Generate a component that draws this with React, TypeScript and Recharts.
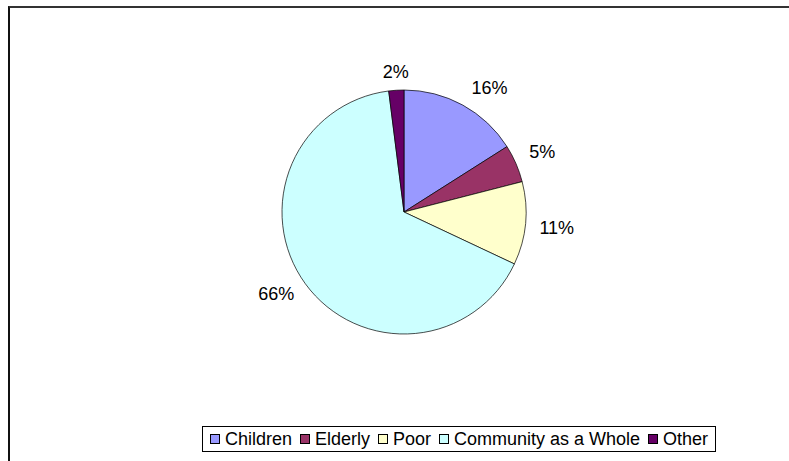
import { PieChart, Pie, Cell, Legend } from 'recharts';

const categories = ['Children', 'Elderly', 'Poor', 'Community as a Whole', 'Other'];
const shares = [16, 5, 11, 66, 2];
const colors = ['#9999FF', '#993366', '#FFFFCC', '#CCFFFF', '#660066'];

const data = categories.map((name, i) => ({ name, value: shares[i] }));

const RADIAN = Math.PI / 180;
const FONT = '"Liberation Sans", Arial, sans-serif';

const renderLabel = (props: any) => {
  const { cx, cy, midAngle, outerRadius, value } = props;
  const r = outerRadius + 10;
  const cos = Math.cos(-midAngle * RADIAN);
  const sin = Math.sin(-midAngle * RADIAN);
  const centered = Math.abs(cos) < 0.2;
  const x = cx + r * cos + (centered ? 0 : cos >= 0 ? 4 : -3);
  const y = cy + r * sin + (sin < 0 ? -2 : 10);
  return (
    <text
      x={x}
      y={y}
      textAnchor={centered ? 'middle' : cos >= 0 ? 'start' : 'end'}
      fill="#000"
      fontSize={18}
      fontFamily={FONT}
    >
      {`${value}%`}
    </text>
  );
};

const renderLegend = () => (
  <div
    style={{
      boxSizing: 'border-box',
      width: 514,
      height: 26,
      border: '1px solid #000',
      display: 'flex',
      alignItems: 'center',
      justifyContent: 'center',
      fontFamily: FONT,
      fontSize: 18,
      color: '#000',
      background: '#fff',
    }}
  >
    {categories.map((c, i) => (
      <span key={c} style={{ display: 'flex', alignItems: 'center', marginRight: i < categories.length - 1 ? 8 : 0 }}>
        <span
          style={{
            display: 'inline-block',
            width: 8,
            height: 8,
            background: colors[i],
            border: '1px solid #000',
            marginRight: 5,
          }}
        />
        {c}
      </span>
    ))}
  </div>
);

export default function App() {
  return (
    <div style={{ position: 'absolute', left: 0, top: 0, width: 789, height: 461, background: '#fff', overflow: 'hidden' }}>
      <div
        style={{
          position: 'absolute',
          left: 8,
          top: 6,
          width: 800,
          height: 470,
          borderTop: '2px solid #333',
          borderLeft: '2px solid #111',
        }}
      />
      <div style={{ position: 'absolute', left: 0, top: 0 }}>
        <PieChart width={789} height={461} margin={{ top: 0, right: 0, bottom: 0, left: 0 }}>
          <Pie
            data={data}
            dataKey="value"
            nameKey="name"
            cx={404}
            cy={212}
            outerRadius={122}
            startAngle={90}
            endAngle={-270}
            stroke="#000"
            strokeWidth={0.7}
            label={renderLabel}
            labelLine={false}
            isAnimationActive={false}
          >
            {data.map((d, i) => (
              <Cell key={d.name} fill={colors[i]} />
            ))}
          </Pie>
          <Legend
            content={renderLegend}
            wrapperStyle={{ position: 'absolute', left: 202, top: 426, width: 514, height: 26 }}
          />
        </PieChart>
      </div>
    </div>
  );
}
